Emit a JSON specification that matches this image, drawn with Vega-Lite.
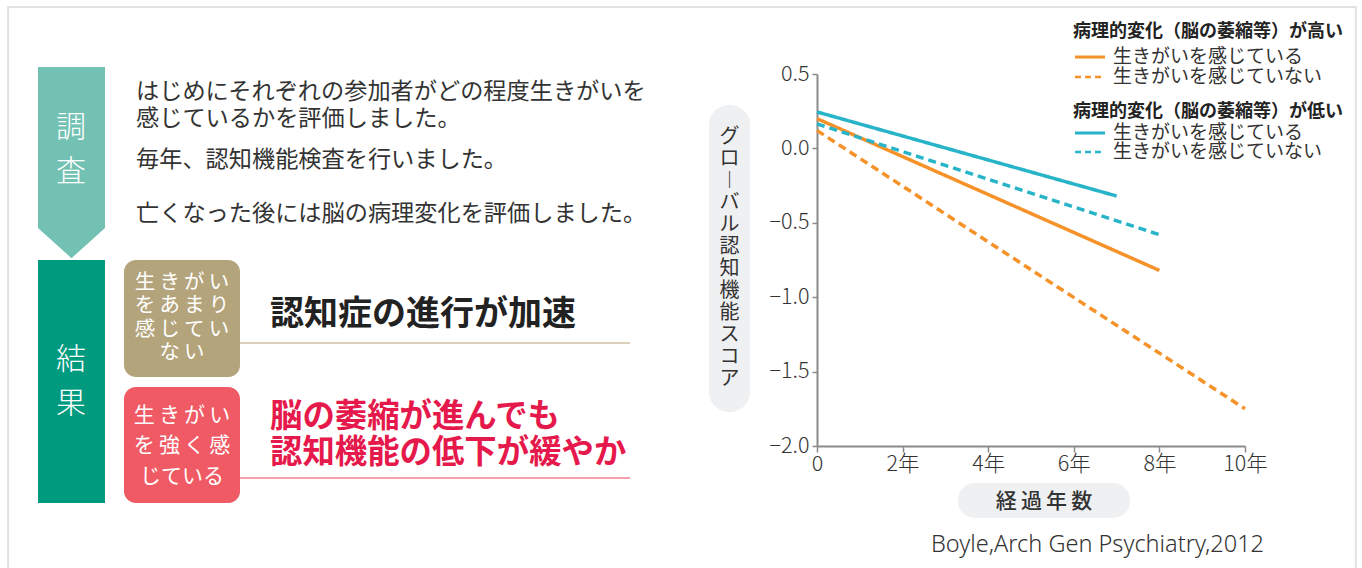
{
  "$schema": "https://vega.github.io/schema/vega-lite/v6.json",
  "width": 428,
  "height": 372,
  "autosize": {"type": "none"},
  "padding": {"left": 817, "top": 74, "right": 117, "bottom": 122},
  "background": "#ffffff",
  "config": {
    "font": "Noto Sans CJK JP",
    "view": {"stroke": null},
    "axis": {
      "labelFont": "Noto Sans CJK JP",
      "labelFontSize": 21.5,
      "labelFontWeight": 300,
      "labelColor": "#333333",
      "domainColor": "#8a8a8a",
      "domainWidth": 2,
      "tickColor": "#8a8a8a",
      "tickWidth": 1.5,
      "grid": false,
      "title": null
    }
  },
  "data": {"values": [{}]},
  "layer": [
    {
      "mark": {"type": "rect", "fill": null, "stroke": "#e2e2e2", "strokeWidth": 2},
      "encoding": {
        "x": {"datum": -18.9}, "x2": {"datum": 12.59},
        "y": {"datum": 0.95}, "y2": {"datum": -3.2}
      }
    },
    {
      "mark": {"type": "rect", "fill": "#72c1b3"},
      "encoding": {
        "x": {"datum": -18.201}, "x2": {"datum": -16.636},
        "y": {"datum": 0.547}, "y2": {"datum": -0.535}
      }
    },
    {
      "mark": {"type": "point", "filled": true, "fill": "#72c1b3", "opacity": 1, "strokeWidth": 0, "shape": "M-1,-0.05L1,-0.05L1,0L0,0.9L-1,0Z", "size": 4489},
      "encoding": {"x": {"datum": -17.418}, "y": {"datum": -0.535}}
    },
    {
      "mark": {"type": "text", "text": "調\n査", "lineBreak": "\n", "lineHeight": 44, "fontSize": 30, "fontWeight": 300, "color": "#ffffff", "align": "center", "baseline": "middle"},
      "encoding": {"x": {"datum": -17.43}, "y": {"datum": 0.14}}
    },
    {
      "mark": {"type": "rect", "fill": "#009a7f"},
      "encoding": {
        "x": {"datum": -18.201}, "x2": {"datum": -16.636},
        "y": {"datum": -0.75}, "y2": {"datum": -2.383}
      }
    },
    {
      "mark": {"type": "text", "text": "結\n果", "lineBreak": "\n", "lineHeight": 44.5, "fontSize": 30, "fontWeight": 300, "color": "#ffffff", "align": "center", "baseline": "middle"},
      "encoding": {"x": {"datum": -17.43}, "y": {"datum": -1.419}}
    },
    {
      "mark": {"type": "text", "text": "はじめにそれぞれの参加者がどの程度生きがいを", "fontSize": 23.2, "color": "#333333", "align": "left", "baseline": "middle"},
      "encoding": {"x": {"datum": -15.911}, "y": {"datum": 0.38}}
    },
    {
      "mark": {"type": "text", "text": "感じているかを評価しました。", "fontSize": 23.2, "color": "#333333", "align": "left", "baseline": "middle"},
      "encoding": {"x": {"datum": -15.911}, "y": {"datum": 0.198}}
    },
    {
      "mark": {"type": "text", "text": "毎年、認知機能検査を行いました。", "fontSize": 23.2, "color": "#333333", "align": "left", "baseline": "middle"},
      "encoding": {"x": {"datum": -15.911}, "y": {"datum": -0.078}}
    },
    {
      "mark": {"type": "text", "text": "亡くなった後には脳の病理変化を評価しました。", "fontSize": 23.2, "color": "#333333", "align": "left", "baseline": "middle"},
      "encoding": {"x": {"datum": -15.911}, "y": {"datum": -0.441}}
    },
    {
      "mark": {"type": "rule", "stroke": "#cdbfa3", "strokeWidth": 1.5},
      "encoding": {"x": {"datum": -13.481}, "x2": {"datum": -4.37}, "y": {"datum": -1.308}}
    },
    {
      "mark": {"type": "rule", "stroke": "#f17f8c", "strokeWidth": 1.5},
      "encoding": {"x": {"datum": -13.481}, "x2": {"datum": -4.37}, "y": {"datum": -2.215}}
    },
    {
      "mark": {"type": "rect", "fill": "#000000", "opacity": 0.16, "cornerRadius": 12, "xOffset": 2, "yOffset": 3},
      "encoding": {
        "x": {"datum": -16.192}, "x2": {"datum": -13.481},
        "y": {"datum": -0.75}, "y2": {"datum": -1.536}
      }
    },
    {
      "mark": {"type": "rect", "fill": "#b4a47c", "cornerRadius": 12},
      "encoding": {
        "x": {"datum": -16.192}, "x2": {"datum": -13.481},
        "y": {"datum": -0.75}, "y2": {"datum": -1.536}
      }
    },
    {
      "mark": {"type": "text", "text": "生\u2009き\u2009が\u2009い\nを\u2009あ\u2009ま\u2009り\n感\u2009じ\u2009て\u2009い\nな\u2009い", "lineBreak": "\n", "lineHeight": 23.3, "fontSize": 20.5, "color": "#ffffff", "align": "center", "baseline": "middle"},
      "encoding": {"x": {"datum": -14.836}, "y": {"datum": -0.9046}}
    },
    {
      "mark": {"type": "rect", "fill": "#000000", "opacity": 0.16, "cornerRadius": 12, "xOffset": 2, "yOffset": 3},
      "encoding": {
        "x": {"datum": -16.192}, "x2": {"datum": -13.481},
        "y": {"datum": -1.6035}, "y2": {"datum": -2.383}
      }
    },
    {
      "mark": {"type": "rect", "fill": "#f05a64", "cornerRadius": 12},
      "encoding": {
        "x": {"datum": -16.192}, "x2": {"datum": -13.481},
        "y": {"datum": -1.6035}, "y2": {"datum": -2.383}
      }
    },
    {
      "mark": {"type": "text", "text": "生\u2009き\u2009が\u2009い\nを\u2009強\u2009く\u2009感\nじている", "lineBreak": "\n", "lineHeight": 30.5, "fontSize": 21, "color": "#ffffff", "align": "center", "baseline": "middle"},
      "encoding": {"x": {"datum": -14.836}, "y": {"datum": -1.798}}
    },
    {
      "mark": {"type": "text", "text": "認知症の進行が加速", "fontSize": 34, "fontWeight": "bold", "color": "#222222", "align": "left", "baseline": "middle"},
      "encoding": {"x": {"datum": -12.78}, "y": {"datum": -1.12}}
    },
    {
      "mark": {"type": "text", "text": "脳の萎縮が進んでも\n認知機能の低下が緩やか", "lineBreak": "\n", "lineHeight": 36, "fontSize": 32.4, "fontWeight": "bold", "color": "#e5194b", "align": "left", "baseline": "middle"},
      "encoding": {"x": {"datum": -12.78}, "y": {"datum": -1.805}}
    },
    {
      "mark": {"type": "rect", "fill": "#eff0f2", "cornerRadius": 20},
      "encoding": {
        "x": {"datum": -2.523}, "x2": {"datum": -1.565},
        "y": {"datum": 0.292}, "y2": {"datum": -1.7715}
      }
    },
    {
      "mark": {"type": "text", "text": "グ\nロ\n︱\nバ\nル\n認\n知\n機\n能\nス\nコ\nア", "lineBreak": "\n", "lineHeight": 22, "fontSize": 20, "color": "#333333", "align": "center", "baseline": "middle"},
      "encoding": {"x": {"datum": -2.044}, "y": {"datum": 0.0766}}
    },
    {
      "mark": {"type": "rect", "fill": "#eff0f2", "cornerRadius": 17},
      "encoding": {
        "x": {"datum": 3.294}, "x2": {"datum": 7.313},
        "y": {"datum": -2.249}, "y2": {"datum": -2.484}
      }
    },
    {
      "mark": {"type": "text", "text": "経\u2009過\u2009年\u2009数", "fontSize": 21, "fontWeight": 500, "color": "#333333", "align": "center", "baseline": "middle"},
      "encoding": {"x": {"datum": 5.304}, "y": {"datum": -2.376}}
    },
    {
      "mark": {"type": "text", "text": "Boyle,Arch Gen Psychiatry,2012", "font": "Noto Sans", "fontWeight": 300, "fontSize": 23.5, "color": "#333333", "align": "right", "baseline": "middle"},
      "encoding": {"x": {"datum": 10.444}, "y": {"datum": -2.665}}
    },
    {
      "mark": {"type": "text", "text": "病理的変化（脳の萎縮等）が高い", "fontSize": 18, "fontWeight": "bold", "color": "#222222", "align": "left", "baseline": "middle"},
      "encoding": {"x": {"datum": 5.981}, "y": {"datum": 0.782}}
    },
    {
      "mark": {"type": "rule", "stroke": "#f5922a", "strokeWidth": 3},
      "encoding": {"x": {"datum": 6.028}, "x2": {"datum": 6.729}, "y": {"datum": 0.614}}
    },
    {
      "mark": {"type": "text", "text": "生きがいを感じている", "fontSize": 19, "color": "#333333", "align": "left", "baseline": "middle"},
      "encoding": {"x": {"datum": 6.916}, "y": {"datum": 0.614}}
    },
    {
      "mark": {"type": "rule", "stroke": "#f5922a", "strokeWidth": 2.5, "strokeDash": [6, 4]},
      "encoding": {"x": {"datum": 6.028}, "x2": {"datum": 6.729}, "y": {"datum": 0.48}}
    },
    {
      "mark": {"type": "text", "text": "生きがいを感じていない", "fontSize": 19, "color": "#333333", "align": "left", "baseline": "middle"},
      "encoding": {"x": {"datum": 6.916}, "y": {"datum": 0.48}}
    },
    {
      "mark": {"type": "text", "text": "病理的変化（脳の萎縮等）が低い", "fontSize": 18, "fontWeight": "bold", "color": "#222222", "align": "left", "baseline": "middle"},
      "encoding": {"x": {"datum": 5.981}, "y": {"datum": 0.245}}
    },
    {
      "mark": {"type": "rule", "stroke": "#28b4c8", "strokeWidth": 3},
      "encoding": {"x": {"datum": 6.028}, "x2": {"datum": 6.729}, "y": {"datum": 0.1035}}
    },
    {
      "mark": {"type": "text", "text": "生きがいを感じている", "fontSize": 19, "color": "#333333", "align": "left", "baseline": "middle"},
      "encoding": {"x": {"datum": 6.916}, "y": {"datum": 0.1035}}
    },
    {
      "mark": {"type": "rule", "stroke": "#28b4c8", "strokeWidth": 2.5, "strokeDash": [6, 4]},
      "encoding": {"x": {"datum": 6.028}, "x2": {"datum": 6.729}, "y": {"datum": -0.024}}
    },
    {
      "mark": {"type": "text", "text": "生きがいを感じていない", "fontSize": 19, "color": "#333333", "align": "left", "baseline": "middle"},
      "encoding": {"x": {"datum": 6.916}, "y": {"datum": -0.024}}
    },
    {
      "data": {
        "values": [
          {"pathology": "高い", "purpose": "感じている", "year": 0, "score": 0.2},
          {"pathology": "高い", "purpose": "感じている", "year": 8, "score": -0.82},
          {"pathology": "高い", "purpose": "感じていない", "year": 0, "score": 0.12},
          {"pathology": "高い", "purpose": "感じていない", "year": 10, "score": -1.75},
          {"pathology": "低い", "purpose": "感じている", "year": 0, "score": 0.245},
          {"pathology": "低い", "purpose": "感じている", "year": 7, "score": -0.32},
          {"pathology": "低い", "purpose": "感じていない", "year": 0, "score": 0.165},
          {"pathology": "低い", "purpose": "感じていない", "year": 8, "score": -0.58}
        ]
      },
      "mark": {"type": "line", "strokeWidth": 3.5, "strokeCap": "butt"},
      "encoding": {
        "x": {
          "field": "year", "type": "quantitative",
          "scale": {"domain": [0, 10], "nice": false, "zero": false},
          "axis": {"values": [0, 2, 4, 6, 8, 10], "labelExpr": "datum.value == 0 ? '0' : datum.value + '年'", "tickSize": 6, "labelPadding": 1, "title": null, "labelFlush": false}
        },
        "y": {
          "field": "score", "type": "quantitative",
          "scale": {"domain": [-2, 0.5], "nice": false, "zero": false},
          "axis": {"values": [-2, -1.5, -1, -0.5, 0, 0.5], "format": ".1f", "tickSize": 5, "labelPadding": 3, "title": null}
        },
        "color": {
          "field": "pathology", "type": "nominal",
          "scale": {"domain": ["高い", "低い"], "range": ["#f5922a", "#28b4c8"]},
          "legend": null
        },
        "strokeDash": {
          "field": "purpose", "type": "nominal",
          "scale": {"domain": ["感じている", "感じていない"], "range": [[1, 0], [8, 5]]},
          "legend": null
        }
      }
    }
  ]
}
